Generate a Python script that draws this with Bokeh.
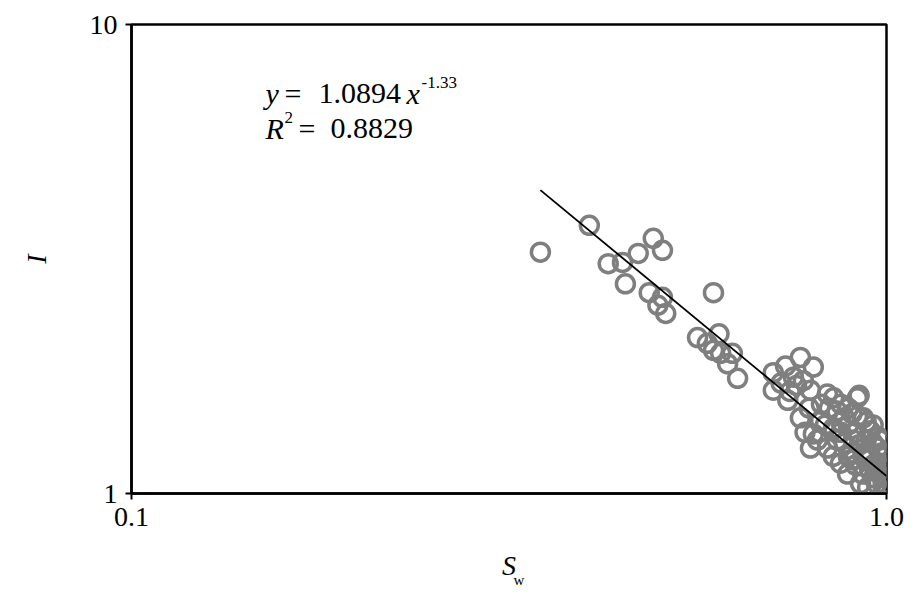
import math
from bokeh.plotting import figure
from bokeh.models import Label, FixedTicker, ColumnDataSource, Title
from bokeh.embed import file_html
from bokeh.resources import INLINE

# ---- data (Sw, I) ----
sw = [0.348, 0.404, 0.428, 0.447, 0.469, 0.491, 0.505, 0.451, 0.485, 0.505, 0.510,
      0.498, 0.590,
      0.562, 0.579, 0.590, 0.603, 0.625, 0.616, 0.635, 0.600,
      0.708, 0.735, 0.769, 0.753, 0.708, 0.740, 0.776, 0.800, 0.793, 0.769, 0.800, 0.793,
      0.835, 0.851, 0.915, 0.920, 0.818, 0.851, 0.835, 0.869, 0.888, 0.904, 0.932, 0.952,
      0.973, 0.982, 0.961, 0.991, 1.000, 0.924, 0.944,
      0.860, 0.870, 0.880, 0.890, 0.900, 0.910, 0.920, 0.930, 0.940, 0.950, 0.960, 0.970,
      0.980, 0.990, 0.990, 0.970, 0.950, 0.930, 0.910, 0.890, 0.880, 0.900, 0.860, 0.840,
      0.820, 0.870, 0.890, 0.960, 0.980, 1.000, 1.000, 0.985, 0.960, 0.940, 0.830, 0.850,
      0.810, 0.780, 0.760, 0.790, 0.725, 0.745, 0.870, 0.905, 0.945, 0.975, 0.995, 0.915]
ri = [3.27, 3.73, 3.09, 3.11, 3.25, 3.50, 3.30, 2.80, 2.68, 2.62, 2.42,
      2.52, 2.68,
      2.15, 2.09, 2.02, 1.99, 1.99, 1.89, 1.76, 2.19,
      1.81, 1.87, 1.95, 1.77, 1.66, 1.58, 1.74, 1.86, 1.66, 1.45, 1.34, 1.25,
      1.63, 1.60, 1.60, 1.62, 1.43, 1.38, 1.25, 1.16, 1.10, 1.30, 1.45, 1.36,
      1.25, 1.16, 1.08, 1.01, 1.00, 1.05, 1.03,
      1.30, 1.35, 1.28, 1.40, 1.22, 1.35, 1.27, 1.20, 1.30, 1.22, 1.15, 1.12,
      1.20, 1.10, 1.05, 1.05, 1.12, 1.10, 1.15, 1.20, 1.45, 1.48, 1.50, 1.52,
      1.55, 1.55, 1.52, 1.28, 1.30, 1.15, 1.08, 1.22, 1.40, 1.42, 1.40, 1.20,
      1.30, 1.35, 1.70, 1.52, 1.72, 1.65, 1.42, 1.18, 1.18, 1.32, 1.13, 1.46]

# power-law trendline y = a * x^b
fit_a = 1.0894
fit_b = -1.33
trend_x = [0.348, 1.0]
trend_y = [fit_a * v ** fit_b for v in trend_x]

x_ticks = [0.1, 1.0]
x_tick_labels = ["0.1", "1.0"]
y_ticks = [1, 10]
y_tick_labels = ["1", "10"]

# ---- layout ----
W, H = 913, 592
FL, FR, FT, FB = 131, 886, 24, 493   # frame edges in canvas px

def dx(px):  # px -> data x
    return 10 ** (-1 + (px - FL) / (FR - FL))

def dy(py):  # px -> data y
    return 10 ** ((FB - py) / (FB - FT))

p = figure(width=W, height=H, x_axis_type="log", y_axis_type="log",
           x_range=(0.1, 1.0), y_range=(1, 10),
           output_backend="svg", toolbar_location=None,
           min_border_left=FL, min_border_right=W - FR,
           min_border_top=FT, min_border_bottom=H - FB)
p.background_fill_color = "white"
p.border_fill_color = "white"
p.xgrid.visible = False
p.ygrid.visible = False
p.outline_line_color = "black"
p.outline_line_width = 2.5
p.outline_line_alpha = 1.0

for ax, ticks, labs in ((p.xaxis[0], x_ticks, x_tick_labels), (p.yaxis[0], y_ticks, y_tick_labels)):
    ax.ticker = FixedTicker(ticks=ticks, minor_ticks=[])
    ax.major_label_overrides = {t: l for t, l in zip(ticks, labs)}
    ax.axis_line_color = "black"
    ax.axis_line_width = 2.5
    ax.major_tick_line_color = "black"
    ax.major_tick_line_width = 2
    ax.major_tick_out = 6
    ax.major_tick_in = 0
    ax.minor_tick_out = 0
    ax.minor_tick_in = 0
    ax.major_label_text_font = "Liberation Serif"
    ax.major_label_text_font_size = "28px"
    ax.major_label_text_color = "black"
    ax.major_label_standoff = 8
    ax.axis_label_text_font = "Liberation Serif"
    ax.axis_label_text_font_size = "28px"
    ax.axis_label_text_font_style = "italic"
    ax.axis_label_text_color = "black"

p.xaxis[0].axis_label = "S"
p.xaxis[0].axis_label_standoff = 21
p.yaxis[0].axis_label = "I"
p.yaxis[0].axis_label_standoff = 35

# subscript "w" of S_w
p.add_layout(Title(text="w", text_font="Liberation Serif", text_font_size="15px",
                   text_font_style="normal", text_color="black",
                   align="left", offset=382, vertical_align="top", standoff=-23), "below")

src = ColumnDataSource(dict(sw=sw, ri=ri))
p.scatter(x="sw", y="ri", source=src, marker="circle", size=18,
          fill_color=None, line_color="#7f7f7f", line_width=3.5)
p.line(trend_x, trend_y, line_color="black", line_width=1.8)

def lab(xp, yp, text, size, italic=False):
    p.add_layout(Label(x=dx(xp), y=dy(yp), text=text, text_font="Liberation Serif",
                       text_font_size=f"{size}px",
                       text_font_style="italic" if italic else "normal",
                       text_align="left", text_baseline="alphabetic",
                       text_color="black"))

# equation
lab(265, 93, "y", 30, italic=True)
lab(284, 93, "=", 30)
lab(318, 93, "1.0894", 30)
lab(406, 93, "x", 30, italic=True)
lab(421, 82, "-1.33", 17)
lab(265, 128, "R", 30, italic=True)
lab(284, 117, "2", 17)
lab(298, 128, "=", 30)
lab(330, 128, "0.8829", 30)

open("out.html", "w").write(file_html(p, INLINE))
